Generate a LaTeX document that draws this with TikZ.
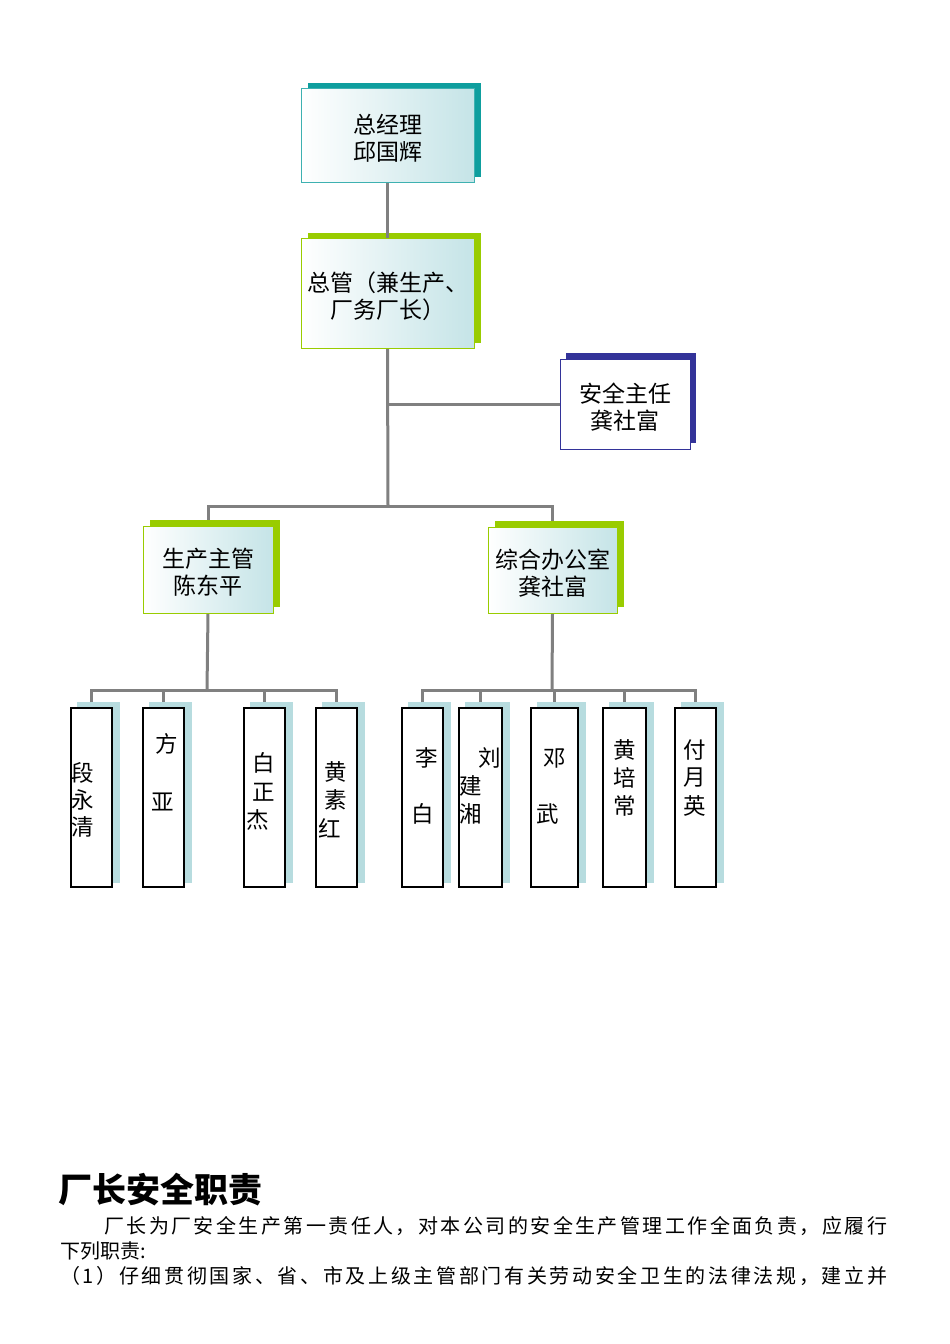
\documentclass[tikz,border=0pt]{standalone}
\usepackage{fontspec}
\setmainfont{Noto Sans CJK SC}
\usetikzlibrary{backgrounds}
\definecolor{linegray}{HTML}{808080}
\definecolor{tealsh}{HTML}{0E9E9E}
\definecolor{greensh}{HTML}{99CC00}
\definecolor{navysh}{HTML}{333399}
\definecolor{bluesh}{HTML}{B7DCDF}
\definecolor{gradend}{HTML}{C5E4E7}
\ExplSyntaxOn
\seq_new:N \l_my_chars_seq
\NewDocumentCommand \spreadchars { m }
  {
    \seq_clear:N \l_my_chars_seq
    \tl_map_inline:nn {#1} { \seq_put_right:Nn \l_my_chars_seq {##1} }
    \seq_use:Nn \l_my_chars_seq { \hfil }
  }
\ExplSyntaxOff
\newcommand{\lowtxt}[1]{\raisebox{-6pt}[\height][\depth]{\begin{tabular}{@{}c@{}}#1\end{tabular}}}
\tikzset{
  mgr/.style={rectangle, inner sep=0pt, left color=white, right color=gradend,
    line width=0.8pt, font=\fontsize{23}{26}\selectfont, align=center},
  staff/.style={rectangle, inner sep=0pt, fill=white, draw=black, line width=1.4pt,
    minimum width=41pt, minimum height=179pt},
  ch/.style={inner sep=0pt, font=\fontsize{22.5}{22}\selectfont},
  conn/.style={draw=linegray, line width=3pt},
  para/.style={inner sep=0pt, anchor=west, font=\fontsize{20}{20}\selectfont},
}
\begin{document}
\begin{tikzpicture}[x=1pt,y=-1pt]
\useasboundingbox (0,0) rectangle (950,1344);
% managers
\node[mgr, draw=tealsh!80, minimum width=173pt, minimum height=94pt] (gm) at (387.5,135) {\lowtxt{总经理\\邱国辉}};
\node[mgr, draw=greensh, minimum width=173pt, minimum height=110pt] (zg) at (387.5,293) {\lowtxt{总管（兼生产、\\厂务厂长）}};
\node[mgr, left color=white, right color=white, draw=navysh, minimum width=130pt, minimum height=90pt] (aq) at (625,404) {\lowtxt{安全主任\\龚社富}};
\node[mgr, draw=greensh, minimum width=130pt, minimum height=87pt] (sc) at (208,569.5) {\lowtxt{生产主管\\陈东平}};
\node[mgr, draw=greensh, minimum width=129pt, minimum height=86pt] (zh) at (552.5,570) {\lowtxt{综合办公室\\龚社富}};
% staff boxes
\node[staff] (p1) at (91.5,797.5) {};
\node[staff] (p2) at (163.5,797.5) {};
\node[staff] (p3) at (264.5,797.5) {};
\node[staff] (p4) at (336.5,797.5) {};
\node[staff] (q1) at (422.5,797.5) {};
\node[staff, minimum width=43pt] (q2) at (480.5,797.5) {};
\node[staff, minimum width=47pt] (q3) at (554.5,797.5) {};
\node[staff, minimum width=43pt] (q4) at (624.5,797.5) {};
\node[staff] (q5) at (695.5,797.5) {};
% staff names
\node[ch] (c11) at (83,773) {段};
\node[ch] (c12) at (83,800) {永};
\node[ch] (c13) at (83,827) {清};
\node[ch] (c21) at (167,744) {方};
\node[ch] (c22) at (163,802) {亚};
\node[ch] (c31) at (264,763) {白};
\node[ch] (c32) at (264,792) {正};
\node[ch] (c33) at (258,820) {杰};
\node[ch] (c41) at (336,772) {黄};
\node[ch] (c42) at (336,800) {素};
\node[ch] (c43) at (330,828) {红};
\node[ch] (d11) at (427,758) {李};
\node[ch] (d12) at (423,814) {白};
\node[ch] (d21) at (490,758) {刘};
\node[ch] (d22) at (471,786) {建};
\node[ch] (d23) at (471,814) {湘};
\node[ch] (d31) at (555,758) {邓};
\node[ch] (d32) at (548,814) {武};
\node[ch] (d41) at (625,750) {黄};
\node[ch] (d42) at (625,778) {培};
\node[ch] (d43) at (625,806) {常};
\node[ch] (d51) at (695,750) {付};
\node[ch] (d52) at (695,778) {月};
\node[ch] (d53) at (695,806) {英};
% junctions
\coordinate (j1) at (388,506);
\coordinate (b1) at (207,690);
\coordinate (b2) at (552,690);
\begin{scope}[on background layer]
  \fill[white] (0,0) rectangle (950,1344);
  \fill[tealsh] ([shift={(7,-5)}]gm.north west) rectangle ([shift={(7,-5)}]gm.south east);
  \fill[greensh] ([shift={(7,-5)}]zg.north west) rectangle ([shift={(7,-5)}]zg.south east);
  \fill[navysh] ([shift={(6,-6)}]aq.north west) rectangle ([shift={(6,-6)}]aq.south east);
  \fill[greensh] ([shift={(7,-6)}]sc.north west) rectangle ([shift={(7,-6)}]sc.south east);
  \fill[greensh] ([shift={(7,-6)}]zh.north west) rectangle ([shift={(7,-6)}]zh.south east);
  \foreach \b in {p1,p2,p3,p4,q1,q2,q3,q4,q5}
    \fill[bluesh] ([shift={(7,-5)}]\b.north west) rectangle ([shift={(7,-5)}]\b.south east);
  % connectors
  \draw[conn] (gm.south) -- (zg.north);
  \draw[conn] (zg.south) -- (j1);
  \draw[conn] (zg.south |- aq.west) -- (aq.west);
  \draw[conn] ([yshift=6pt]sc.north) |- (j1) -| ([yshift=6pt]zh.north);
  \draw[conn] (sc.south) -- (b1);
  \draw[conn] ([yshift=5pt]p1.north) |- (b1) -| ([yshift=5pt]p4.north);
  \draw[conn] (p2.north |- b1) -- ([yshift=5pt]p2.north);
  \draw[conn] (p3.north |- b1) -- ([yshift=5pt]p3.north);
  \draw[conn] (zh.south) -- (b2);
  \draw[conn] ([yshift=5pt]q1.north) |- (b2) -| ([yshift=5pt]q5.north);
  \draw[conn] (q2.north |- b2) -- ([yshift=5pt]q2.north);
  \draw[conn] (q3.north |- b2) -- ([yshift=5pt]q3.north);
  \draw[conn] (q4.north |- b2) -- ([yshift=5pt]q4.north);
\end{scope}
% text below
\node[inner sep=0pt, anchor=west, font=\fontsize{34}{34}\selectfont\bfseries] (title) at (58,1190) {厂长安全职责};
\node[para] (l1) at (104,1226) {\hbox to 783pt{\spreadchars{厂长为厂安全生产第一责任人，对本公司的安全生产管理工作全面负责，应履行}}};
\node[para] (l2) at (60,1251) {下列职责:};
\node[para] (l3) at (60,1276) {\hbox to 827pt{\spreadchars{（1）仔细贯彻国家、省、市及上级主管部门有关劳动安全卫生的法律法规，建立并}}};
\end{tikzpicture}
\end{document}
